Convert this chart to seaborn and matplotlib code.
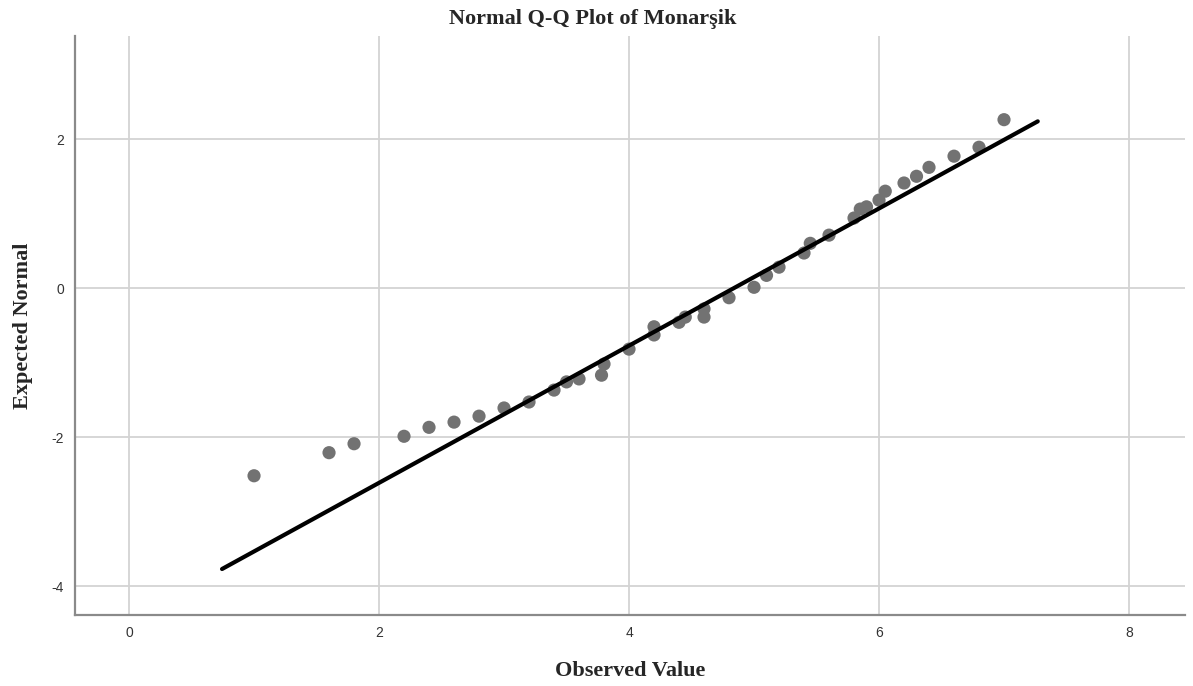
import numpy as np
import pandas as pd
import matplotlib
matplotlib.use("Agg")
import matplotlib.pyplot as plt
import seaborn as sns

# Observed values (sorted) and their expected normal quantiles
observed = [1.0, 1.6, 1.8, 2.2, 2.4, 2.6, 2.8, 3.0, 3.2, 3.4, 3.5, 3.6, 3.78, 3.8,
            4.0, 4.2, 4.2, 4.4, 4.45, 4.6, 4.6, 4.8, 5.0, 5.1, 5.2, 5.4, 5.45, 5.6,
            5.8, 5.85, 5.9, 6.0, 6.05, 6.2, 6.3, 6.4, 6.6, 6.8, 7.0]
expected = [-2.52, -2.21, -2.09, -1.99, -1.87, -1.80, -1.72, -1.61, -1.53, -1.37,
            -1.26, -1.22, -1.17, -1.02, -0.82, -0.52, -0.63, -0.46, -0.39, -0.39,
            -0.28, -0.13, 0.01, 0.17, 0.28, 0.47, 0.60, 0.71, 0.94, 1.06, 1.09,
            1.18, 1.30, 1.41, 1.50, 1.62, 1.77, 1.89, 2.26]

# Reference normal line: y = (x - mean) / sd over the drawn range
line_mean = 4.84
line_sd = 1.086
line_range = [0.744, 7.27]

x_ticks = [0, 2, 4, 6, 8]
y_ticks = [-4, -2, 0, 2]

sns.set_style("white")
serif = ["Liberation Serif", "DejaVu Serif"]
sans = ["Liberation Sans", "DejaVu Sans"]

fig = plt.figure(figsize=(11.93, 6.86), dpi=100)
ax = fig.add_axes([0.0629, 0.1035, 0.9304, 0.844])

grid_color = "#d3d3d3"
for xt in x_ticks:
    ax.axvline(xt, color=grid_color, lw=1.3, zorder=0)
for yt in y_ticks:
    ax.axhline(yt, color=grid_color, lw=1.3, zorder=0)

pts = pd.DataFrame({"Observed": observed, "Expected": expected})
sns.scatterplot(data=pts, x="Observed", y="Expected", ax=ax, color="#727272",
                s=90, edgecolor="none", zorder=3)

line_df = pd.DataFrame({"x": line_range,
                        "y": [(v - line_mean) / line_sd for v in line_range]})
sns.lineplot(data=line_df, x="x", y="y", ax=ax, color="black", lw=3.0, zorder=4)

ax.set_xlim(-0.432, 8.448)
ax.set_ylim(-4.389, 3.383)
ax.set_xticks(x_ticks)
ax.set_yticks(y_ticks)
ax.set_xticklabels([str(t) for t in x_ticks], family=sans, fontsize=10, color="#333333")
ax.set_yticklabels([str(t) for t in y_ticks], family=sans, fontsize=10, color="#333333")
ax.tick_params(axis="both", length=0, pad=8)

for side in ["top", "right"]:
    ax.spines[side].set_visible(False)
for side in ["left", "bottom"]:
    ax.spines[side].set_color("#8a8a8a")
    ax.spines[side].set_linewidth(1.6)

ax.set_xlabel("Observed Value", family=serif, fontsize=16, fontweight="bold",
              labelpad=15)
ax.set_ylabel("Expected Normal", family=serif, fontsize=16, fontweight="bold",
              labelpad=13)
fig.text(0.497, 0.972, "Normal Q-Q Plot of Monarşik", family=serif, fontsize=16,
         fontweight="bold", ha="center", va="center")

fig.savefig("out.png", dpi=100)
